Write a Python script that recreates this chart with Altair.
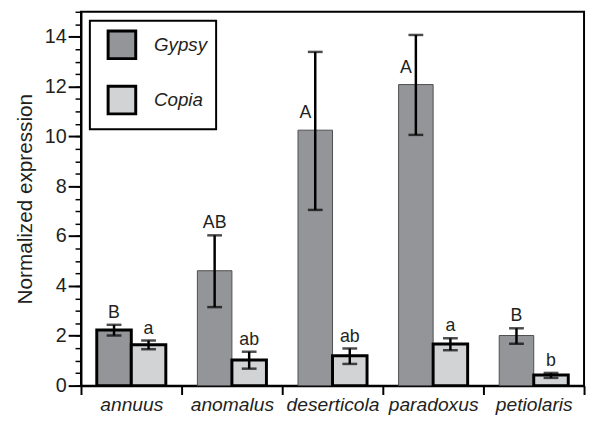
import altair as alt
import pandas as pd

species = ["annuus", "anomalus", "deserticola", "paradoxus", "petiolaris"]
types = ["Gypsy", "Copia"]

gypsy_mean = [2.23, 4.61, 10.25, 12.08, 2.01]
gypsy_lo = [2.01, 3.15, 7.05, 10.06, 1.68]
gypsy_hi = [2.44, 6.03, 13.39, 14.07, 2.30]
gypsy_letters = ["B", "AB", "A", "A", "B"]

copia_mean = [1.64, 1.03, 1.20, 1.67, 0.43]
copia_lo = [1.46, 0.68, 0.87, 1.42, 0.31]
copia_hi = [1.81, 1.36, 1.49, 1.90, 0.51]
copia_letters = ["a", "ab", "ab", "a", "b"]

major_ticks = [0, 2, 4, 6, 8, 10, 12, 14]
minor_ticks = [i / 2 for i in range(0, 31)]

rows = []
for i, s in enumerate(species):
    rows.append(dict(species=s, type="Gypsy", mean=gypsy_mean[i], lo=gypsy_lo[i],
                     hi=gypsy_hi[i], letter=gypsy_letters[i]))
    rows.append(dict(species=s, type="Copia", mean=copia_mean[i], lo=copia_lo[i],
                     hi=copia_hi[i], letter=copia_letters[i]))
df = pd.DataFrame(rows)

FONT = "Liberation Sans"
INK = "#231f20"

yscale = alt.Scale(domain=[0, 15], nice=False, zero=True)

x_enc = alt.X("species:N", sort=species,
              scale=alt.Scale(paddingInner=0, paddingOuter=0),
              axis=alt.Axis(title=None, labelFontStyle="italic", labelFontSize=19.5,
                            labelFont=FONT, labelColor=INK, tickBand="extent",
                            tickSize=9, tickWidth=2, tickColor="black",
                            domainWidth=2.5, domainColor="black", labelPadding=1,
                            labelAngle=0))
xoff_enc = alt.XOffset("type:N", sort=types,
                       scale=alt.Scale(paddingOuter=0.457, paddingInner=0))

major_axis = alt.Axis(orient="left", values=major_ticks, tickSize=13, tickWidth=2,
                      tickColor="black", domainWidth=2, domainColor="black",
                      labelFontSize=20, labelFont=FONT, labelColor=INK, labelPadding=2,
                      title="Normalized expression", titleFontSize=21,
                      titleFont=FONT, titleFontWeight="normal", titleColor=INK,
                      titlePadding=9, grid=False)
minor_axis = alt.Axis(orient="left", values=minor_ticks, tickSize=6, tickWidth=1.5,
                      tickColor="black", labels=False, domain=False, title=None,
                      grid=False)

base = alt.Chart(df)

thick = "datum.type === 'Copia' || datum.species === 'annuus'"

bars = base.mark_bar().encode(
    x=x_enc,
    xOffset=xoff_enc,
    y=alt.Y("mean:Q", scale=yscale, axis=major_axis),
    color=alt.Color("type:N", sort=types,
                    scale=alt.Scale(domain=types, range=["#939598", "#d1d3d4"]),
                    legend=alt.Legend(title=None, orient="none", legendX=9, legendY=9,
                                      symbolType="square", symbolSize=784,
                                      symbolStrokeColor="black", symbolStrokeWidth=3,
                                      labelFontSize=19, labelFontStyle="italic",
                                      labelFont=FONT, labelColor=INK, labelOffset=17,
                                      rowPadding=15, padding=9, symbolOffset=8,
                                      strokeColor="black", fillColor="white",
                                      labelExpr="datum.label + '      '")),
    stroke=alt.condition(thick, alt.value("black"), alt.value("#4d4d4f")),
    strokeWidth=alt.condition(thick, alt.value(3), alt.value(1)),
)

rule = base.mark_rule(color="black", strokeWidth=2.5).encode(
    x=alt.X("species:N", sort=species),
    xOffset=xoff_enc,
    y=alt.Y("lo:Q", scale=yscale, axis=minor_axis),
    y2="hi:Q",
)

cap_lo = base.mark_tick(color="black", thickness=2.5, size=15).encode(
    x=alt.X("species:N", sort=species),
    xOffset=xoff_enc,
    y=alt.Y("lo:Q", scale=yscale, axis=None),
)
cap_hi = base.mark_tick(color="black", thickness=2.5, size=15).encode(
    x=alt.X("species:N", sort=species),
    xOffset=xoff_enc,
    y=alt.Y("hi:Q", scale=yscale, axis=None),
)

text_above = base.transform_filter("datum.mean <= 8").mark_text(
    fontSize=18, font=FONT, color=INK, baseline="alphabetic", dy=-7
).encode(
    x=alt.X("species:N", sort=species),
    xOffset=xoff_enc,
    y=alt.Y("hi:Q", scale=yscale, axis=None),
    text="letter:N",
)
text_side = base.transform_filter("datum.mean > 8").mark_text(
    fontSize=18, font=FONT, color=INK, baseline="alphabetic", dx=-10, dy=-12
).encode(
    x=alt.X("species:N", sort=species),
    xOffset=xoff_enc,
    y=alt.Y("mean:Q", scale=yscale, axis=None),
    text="letter:N",
)

chart = alt.layer(bars, rule, cap_lo, cap_hi, text_above, text_side).resolve_scale(
    y="independent"
).properties(
    width=510, height=379,
    padding={"left": 74, "top": 1, "right": 3, "bottom": 30},
    autosize=alt.AutoSizeParams(type="none"),
    background="white",
).configure_view(
    stroke="black", strokeWidth=2
).configure_legend(
    strokeWidth=2
)

chart.save("out.html", embed_options={"renderer": "svg", "actions": False})
